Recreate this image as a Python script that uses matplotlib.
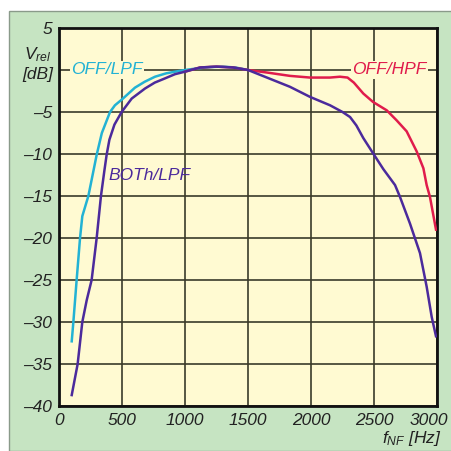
import numpy as np
import matplotlib
matplotlib.use("Agg")
import matplotlib.pyplot as plt
import matplotlib.transforms as mtransforms
from matplotlib.patches import Rectangle

# OFF/LPF (cyan)
f_off_lpf = [101, 114, 140, 167, 185, 233, 260, 299, 340, 405, 444, 500, 603, 680, 762, 850, 921, 1000, 1100, 1200, 1300, 1400, 1500]
v_off_lpf = [-32.3, -30, -25, -20, -17.4, -15, -13, -10.1, -7.5, -5, -4.2, -3.5, -2.1, -1.4, -0.8, -0.4, -0.2, 0.0, 0.2, 0.35, 0.4, 0.3, 0.0]

# BOTh/LPF (purple)
f_both = [101, 148, 185, 220, 259, 299, 333, 360, 378, 400, 440, 497, 577, 683, 760, 841, 920, 1000, 1119, 1250, 1381, 1500,
          1650, 1833, 1992, 2151, 2250, 2310, 2360, 2415, 2492, 2574, 2667, 2706, 2786, 2865, 2918, 2958, 2992]
v_both = [-38.7, -35, -30, -27.4, -25, -20, -15, -12, -10.1, -8.3, -6.5, -5, -3.4, -2.2, -1.5, -1.0, -0.5, -0.2, 0.3, 0.4, 0.3, 0.0,
          -0.9, -2.0, -3.2, -4.2, -5.0, -5.6, -6.6, -8.1, -9.9, -11.8, -13.7, -15.1, -18.3, -21.8, -25.8, -29.4, -31.7]

# OFF/HPF (red)
f_off_hpf = [1000, 1119, 1250, 1381, 1500, 1650, 1833, 1992, 2151, 2230, 2290, 2340, 2415, 2492, 2601, 2680, 2759,
             2839, 2892, 2918, 2944, 2992]
v_off_hpf = [-0.2, 0.3, 0.4, 0.3, 0.0, -0.3, -0.7, -0.9, -0.9, -0.8, -0.9, -1.5, -2.8, -3.8, -4.8, -6.0, -7.3,
             -9.7, -11.7, -13.7, -15.1, -19.0]

x_ticks = [0, 500, 1000, 1500, 2000, 2500, 3000]
y_ticks = [5, 0, -5, -10, -15, -20, -25, -30, -35, -40]
y_labels = ['5', '', '\u20135', '\u201310', '\u201315', '\u201320', '\u201325', '\u201330', '\u201335', '\u201340']

cyan = '#22b2d4'
purple = '#4b2a9c'
red = '#e01c4c'
green = '#c6e4c2'
yellow = '#fffad2'

plt.rcParams['font.family'] = 'Liberation Sans'
plt.rcParams['font.style'] = 'italic'
plt.rcParams['mathtext.fontset'] = 'custom'
plt.rcParams['mathtext.it'] = 'Liberation Sans:italic'
plt.rcParams['mathtext.rm'] = 'Liberation Sans:italic'
fs = 12.5

fig = plt.figure(figsize=(4.52, 4.51), dpi=100)
fig.patch.set_facecolor('white')
W, H = 452, 451
panel = Rectangle((9 / W, 0), 1, 1 - 11 / H, transform=fig.transFigure,
                  facecolor=green, edgecolor='#8a9a8a', linewidth=1.0, zorder=-10)
fig.add_artist(panel)

ax = fig.add_axes([59 / W, 1 - 406 / H, (437 - 59) / W, (406 - 28) / H])
ax.set_facecolor(yellow)
ax.set_zorder(1)

ax.plot(f_off_lpf, v_off_lpf, color=cyan, lw=1.8, zorder=3)
ax.plot(f_off_hpf, v_off_hpf, color=red, lw=1.8, zorder=3)
ax.plot(f_both, v_both, color=purple, lw=1.8, zorder=4)

ax.set_xlim(0, 3000)
ax.set_ylim(-40, 5)
ax.set_xticks(x_ticks)
ax.set_yticks(y_ticks)
ax.set_xticklabels([str(t) for t in x_ticks], fontsize=fs, color='#222222')
ax.set_yticklabels(y_labels, fontsize=fs, color='#222222')
ax.tick_params(length=0, pad=5)
ax.grid(True, color='#3a3a2a', lw=1.2, zorder=1)
ax.set_axisbelow(True)
for s in ax.spines.values():
    s.set_linewidth(2.0)
    s.set_color('#111111')

# keep the last x label inside the panel
last = ax.get_xticklabels()[-1]
last.set_horizontalalignment('right')
last.set_transform(last.get_transform() + mtransforms.ScaledTranslation(11 / 100, 0, fig.dpi_scale_trans))

bbox = dict(facecolor=yellow, edgecolor='none', pad=1)
ax.text(380, 0, 'OFF/LPF', color=cyan, fontsize=fs, ha='center', va='center', bbox=bbox, zorder=2)
ax.text(2620, 0, 'OFF/HPF', color=red, fontsize=fs, ha='center', va='center', bbox=bbox, zorder=2)
ax.text(720, -12.5, 'BOTh/LPF', color=purple, fontsize=fs, ha='center', va='center', zorder=2)

fig.text(38 / W, 1 - 55 / H, r'$V_{rel}$', fontsize=fs, ha='center', va='center', color='#222222')
fig.text(38 / W, 1 - 75 / H, '[dB]', fontsize=fs, ha='center', va='center', color='#222222')
fig.text(412 / W, 1 - 439 / H, r'$f_{NF}$ [Hz]', fontsize=fs, ha='center', va='center', color='#222222')

fig.savefig('out.png', dpi=100, facecolor=fig.get_facecolor())
